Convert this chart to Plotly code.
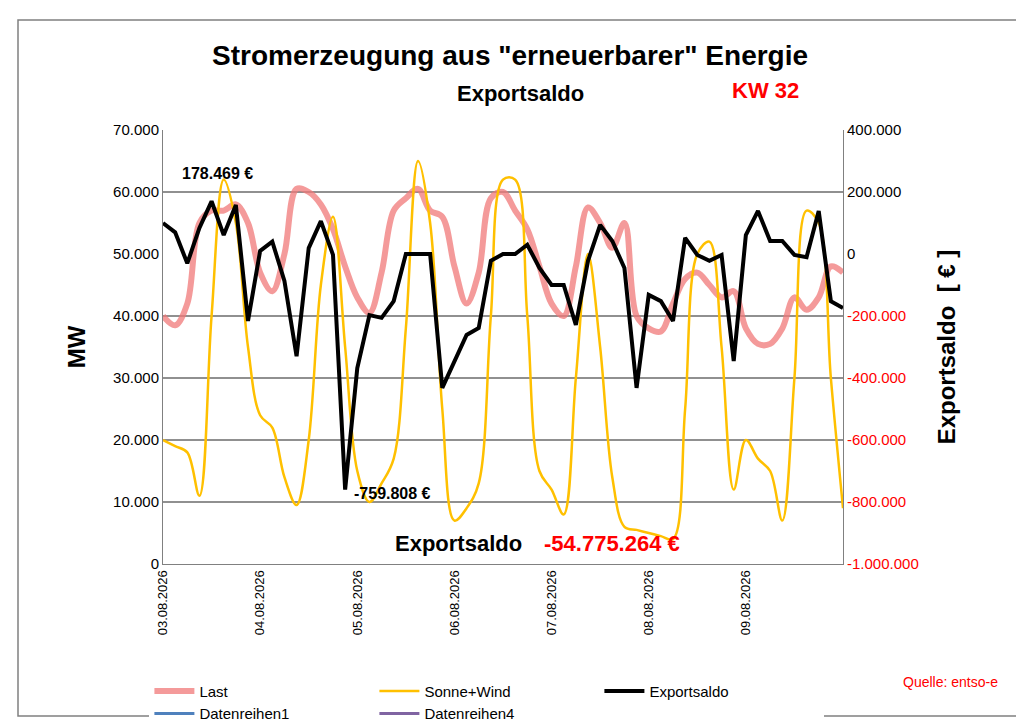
import plotly.graph_objects as go
import pandas as pd

hours = list(range(0, 169, 3))
times = [pd.Timestamp("2026-08-03") + pd.Timedelta(hours=h) for h in hours]

last = [40000,38500,42000,55000,57000,57000,58000,55000,47000,44000,50000,60500,60000,58000,54000,48000,
        43000,40500,47000,57000,59000,60500,57000,56000,48000,42000,47000,59000,60000,57000,54000,48000,
        42000,40000,48000,57500,55000,51000,55000,40000,38000,37500,42000,46000,47000,45000,43000,44000,
        38000,35500,35500,38000,43000,41000,43000,48000,47000]
sonne_wind = [20000,19000,18000,11000,40000,62000,55000,35000,24000,22000,14000,9500,20000,45000,56000,35000,
              15000,10000,13000,17000,38000,65000,55000,25000,7000,9000,13000,40000,62000,62000,40000,15000,
              12000,8000,30000,50000,35000,14000,6000,5500,5000,4500,4000,25000,50000,52000,35000,12000,
              20000,17000,15000,7000,30000,57000,55000,30000,9000]
exportsaldo = [100000,70000,-30000,84000,170000,61000,158000,-216000,10000,40000,-87000,-330000,19000,106000,-3000,-759808,
               -368000,-197000,-206000,-152000,0,0,0,-432000,-345000,-261000,-239000,-22000,0,0,30000,-45000,
               -100000,-100000,-229000,-22000,94000,42000,-45000,-432000,-132000,-152000,-216000,52000,-3000,-22000,-3000,-345000,
               61000,139000,42000,42000,-3000,-10000,139000,-152000,-174000]

day_ticks = [pd.Timestamp("2026-08-03") + pd.Timedelta(days=d) for d in range(7)]
day_labels = [t.strftime("%d.%m.%Y") for t in day_ticks]
left_ticks = list(range(0, 70001, 10000))
right_ticks = list(range(-1000000, 400001, 200000))

def fmt(v):
    s = f"{abs(v):,}".replace(",", ".")
    return ("-" if v < 0 else "") + s

right_text = [f"<span style='color:red'>{fmt(v)}</span>" if v < 0 else fmt(v) for v in right_ticks]
left_text = [fmt(v) for v in left_ticks]

fig = go.Figure()
fig.add_trace(go.Scatter(x=times, y=last, name="Last", mode="lines",
                         line=dict(color="rgba(240,120,120,0.75)", width=6, shape="spline")))
fig.add_trace(go.Scatter(x=times, y=sonne_wind, name="Sonne+Wind", mode="lines",
                         line=dict(color="#FFC000", width=2.5, shape="spline")))
fig.add_trace(go.Scatter(x=times, y=exportsaldo, name="Exportsaldo", mode="lines", yaxis="y2",
                         line=dict(color="black", width=4)))
fig.add_trace(go.Scatter(x=[None], y=[None], name="Datenreihen1", mode="lines",
                         line=dict(color="#4F81BD", width=3)))
fig.add_trace(go.Scatter(x=[None], y=[None], name="Datenreihen4", mode="lines",
                         line=dict(color="#8064A2", width=3)))

fig.update_layout(
    width=1024, height=724, paper_bgcolor="white", plot_bgcolor="white",
    margin=dict(l=155, r=189, t=122, b=168, autoexpand=False),
    font=dict(family="Liberation Sans, Arial", size=14, color="black"),
    showlegend=True,
    legend=dict(orientation="h", x=-0.02, y=-0.255, xanchor="left", yanchor="top",
                font=dict(size=15), itemwidth=40, entrywidth=170, tracegroupgap=0),
    xaxis=dict(range=[pd.Timestamp("2026-08-03"), pd.Timestamp("2026-08-10")],
               tickvals=day_ticks, ticktext=day_labels, tickangle=-90, automargin=False,
               showgrid=False, showline=True, linecolor="#808080", ticks="",
               tickfont=dict(size=13, color="black")),
    yaxis=dict(range=[0, 70000], tickvals=left_ticks, ticktext=left_text, automargin=False,
               showgrid=True, gridcolor="#909090", gridwidth=1.5,
               showline=True, linecolor="#808080", mirror=False,
               title=dict(text="<b>MW</b>", font=dict(size=24), standoff=20), tickfont=dict(size=15)),
    yaxis2=dict(range=[-1000000, 400000], tickvals=right_ticks, ticktext=right_text, automargin=False,
                overlaying="y", side="right", showgrid=False, showline=True, linecolor="#808080",
                title=dict(text="<b>Exportsaldo  [ € ]</b>", font=dict(size=24), standoff=20),
                tickfont=dict(size=15)),
)

anns = [
    dict(x=0.49, y=0.935, text="<b>Stromerzeugung aus \"erneuerbarer\" Energie</b>", font=dict(size=28)),
    dict(x=0.50, y=0.882, text="<b>Exportsaldo</b>", font=dict(size=22)),
    dict(x=0.74, y=0.886, text="<b>KW 32</b>", font=dict(size=22, color="red")),
    dict(x=0.205, y=0.772, text="<b>178.469 €</b>", font=dict(size=16)),
    dict(x=0.375, y=0.33, text="<b>-759.808 €</b>", font=dict(size=16)),
    dict(x=0.44, y=0.26, text="<b>Exportsaldo</b>", font=dict(size=22)),
    dict(x=0.59, y=0.26, text="<b>-54.775.264 €</b>", font=dict(size=22, color="red")),
    dict(x=0.92, y=0.069, text="Quelle: entso-e", font=dict(size=14, color="red")),
]
for a in anns:
    a.update(xref="paper", yref="paper", showarrow=False, xanchor="center", yanchor="middle")
    px = a["x"] * 1024
    py = (1 - a["y"]) * 724
    a["x"] = (px - 155) / (1024 - 155 - 189)
    a["y"] = (724 - 168 - py) / (724 - 122 - 168)
    fig.add_annotation(**a)

fig.add_shape(type="rect", xref="paper", yref="paper",
              x0=(10 - 155) / 680, x1=(1012 - 155) / 680,
              y0=(556 - 708) / 434, y1=(556 - 12) / 434,
              line=dict(color="#808080", width=1.5))

fig.write_html("out.html")
